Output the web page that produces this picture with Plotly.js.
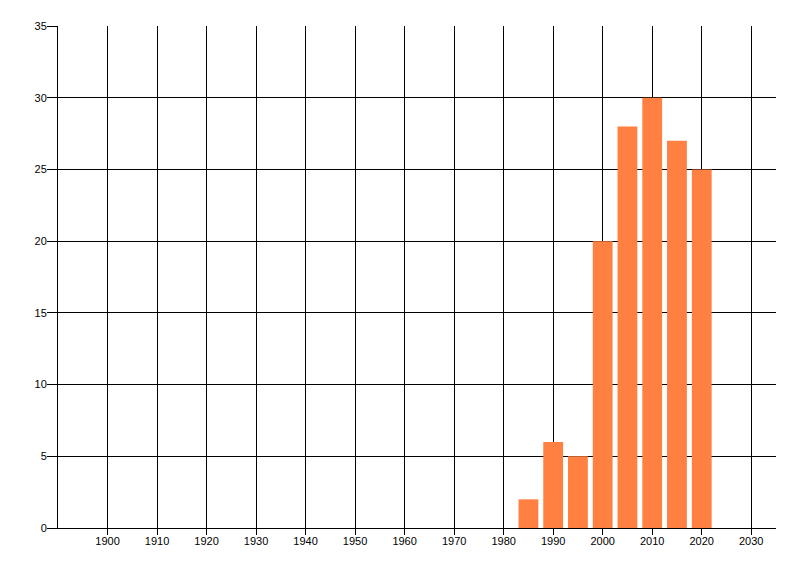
<!DOCTYPE html>
<html>
<head>
<meta charset="utf-8">
<script src="https://cdn.plot.ly/plotly-3.0.1.min.js"></script>
<style>html,body{margin:0;padding:0;background:#fff;}#chart{width:800px;height:576px;}</style>
</head>
<body>
<div id="chart"></div>
<script>
const years = [1985, 1990, 1995, 2000, 2005, 2010, 2015, 2020];
const counts = [2, 6, 5, 20, 28, 30, 27, 25];
const xTicks = [1900, 1910, 1920, 1930, 1940, 1950, 1960, 1970, 1980, 1990, 2000, 2010, 2020, 2030];
const yTicks = [0, 5, 10, 15, 20, 25, 30, 35];

const trace = {
  type: 'bar',
  x: years,
  y: counts,
  width: 4,
  marker: {color: '#FF8040', line: {width: 0}},
  hoverinfo: 'x+y'
};

const layout = {
  width: 800, height: 576,
  margin: {l: 58, r: 24, t: 26, b: 48},
  paper_bgcolor: '#ffffff', plot_bgcolor: '#ffffff',
  showlegend: false,
  font: {family: 'Liberation Sans, Arial, sans-serif', size: 11, color: '#000'},
  xaxis: {
    range: [1890, 2035],
    tickvals: xTicks,
    ticktext: xTicks.map(String),
    showgrid: true, gridcolor: '#000', gridwidth: 1,
    zeroline: false,
    showline: true, linecolor: '#000', linewidth: 1,
    ticks: 'outside', ticklen: 6, tickcolor: '#000', tickwidth: 1,
    ticklabelstandoff: -3,
    fixedrange: true
  },
  yaxis: {
    range: [0, 35],
    tickvals: yTicks,
    ticktext: yTicks.map(String),
    showgrid: true, gridcolor: '#000', gridwidth: 1,
    zeroline: false,
    showline: true, linecolor: '#000', linewidth: 1,
    ticks: 'outside', ticklen: 10, tickcolor: '#000', tickwidth: 1,
    ticklabelstandoff: -2,
    fixedrange: true
  }
};

Plotly.newPlot('chart', [trace], layout, {displayModeBar: false, staticPlot: true});
</script>
</body>
</html>
